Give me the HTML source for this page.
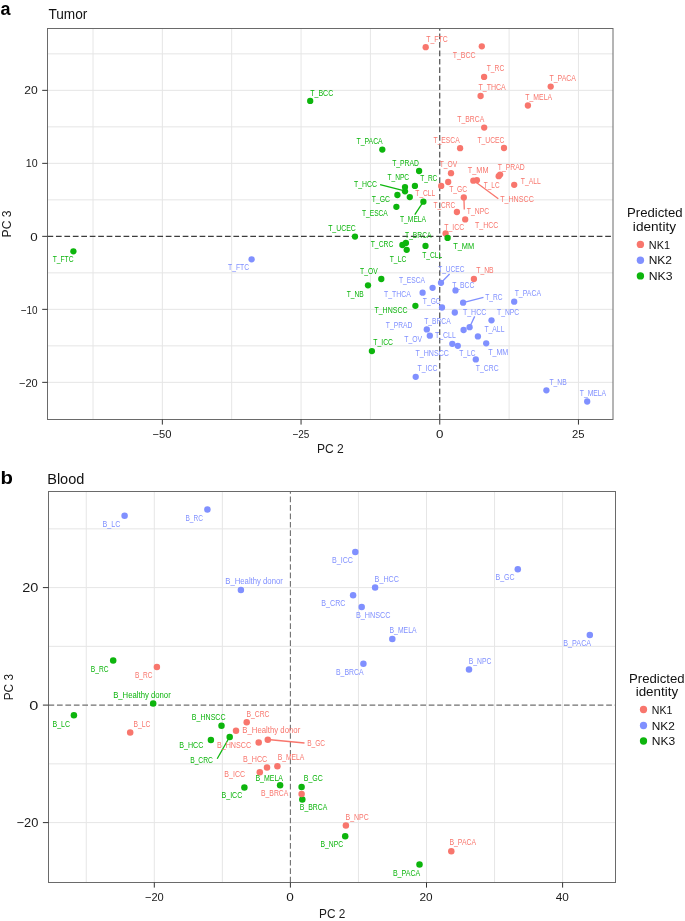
<!DOCTYPE html><html><head><meta charset="utf-8"><style>html,body{margin:0;padding:0;background:#fff;width:685px;height:921px;overflow:hidden;}svg{display:block;will-change:transform;}text{font-family:"Liberation Sans",sans-serif;}</style></head><body>
<svg width="685" height="921" viewBox="0 0 685 921">
<rect x="47.5" y="28.5" width="565.5" height="391" fill="#fff"/>
<line x1="93" y1="28.5" x2="93" y2="419.5" stroke="#E6E6E6" stroke-width="1"/>
<line x1="162.35" y1="28.5" x2="162.35" y2="419.5" stroke="#E6E6E6" stroke-width="1"/>
<line x1="231.7" y1="28.5" x2="231.7" y2="419.5" stroke="#E6E6E6" stroke-width="1"/>
<line x1="301.05" y1="28.5" x2="301.05" y2="419.5" stroke="#E6E6E6" stroke-width="1"/>
<line x1="370.4" y1="28.5" x2="370.4" y2="419.5" stroke="#E6E6E6" stroke-width="1"/>
<line x1="509.1" y1="28.5" x2="509.1" y2="419.5" stroke="#E6E6E6" stroke-width="1"/>
<line x1="578.45" y1="28.5" x2="578.45" y2="419.5" stroke="#E6E6E6" stroke-width="1"/>
<line x1="47.5" y1="53.85" x2="613" y2="53.85" stroke="#E6E6E6" stroke-width="1"/>
<line x1="47.5" y1="90.35" x2="613" y2="90.35" stroke="#E6E6E6" stroke-width="1"/>
<line x1="47.5" y1="126.85" x2="613" y2="126.85" stroke="#E6E6E6" stroke-width="1"/>
<line x1="47.5" y1="163.35" x2="613" y2="163.35" stroke="#E6E6E6" stroke-width="1"/>
<line x1="47.5" y1="199.85" x2="613" y2="199.85" stroke="#E6E6E6" stroke-width="1"/>
<line x1="47.5" y1="272.85" x2="613" y2="272.85" stroke="#E6E6E6" stroke-width="1"/>
<line x1="47.5" y1="309.35" x2="613" y2="309.35" stroke="#E6E6E6" stroke-width="1"/>
<line x1="47.5" y1="345.85" x2="613" y2="345.85" stroke="#E6E6E6" stroke-width="1"/>
<line x1="47.5" y1="382.35" x2="613" y2="382.35" stroke="#E6E6E6" stroke-width="1"/>
<line x1="47.5" y1="236.35" x2="613" y2="236.35" stroke="#3c3c3c" stroke-width="1.1" stroke-dasharray="5.7 2.75"/>
<line x1="439.75" y1="419.5" x2="439.75" y2="28.5" stroke="#3c3c3c" stroke-width="1.1" stroke-dasharray="5.7 2.75"/>
<line x1="476.3" y1="182.6" x2="498.3" y2="198.7" stroke="#F8766D" stroke-width="1.3"/>
<line x1="463.9" y1="197.4" x2="464.3" y2="209.6" stroke="#F8766D" stroke-width="1.3"/>
<line x1="380.1" y1="184.6" x2="402.6" y2="190.3" stroke="#0DB50D" stroke-width="1.3"/>
<line x1="414.8" y1="214.7" x2="423.4" y2="201.7" stroke="#0DB50D" stroke-width="1.3"/>
<line x1="449.6" y1="274" x2="441" y2="282.8" stroke="#8090FF" stroke-width="1.3"/>
<line x1="463.1" y1="302.7" x2="483.5" y2="297.4" stroke="#8090FF" stroke-width="1.3"/>
<line x1="469.6" y1="327.2" x2="474.7" y2="316.4" stroke="#8090FF" stroke-width="1.3"/>
<circle cx="425.7" cy="47.2" r="3.15" fill="#F8766D"/>
<circle cx="481.8" cy="46.3" r="3.15" fill="#F8766D"/>
<circle cx="484.1" cy="76.9" r="3.15" fill="#F8766D"/>
<circle cx="550.7" cy="86.6" r="3.15" fill="#F8766D"/>
<circle cx="480.6" cy="96" r="3.15" fill="#F8766D"/>
<circle cx="527.9" cy="105.5" r="3.15" fill="#F8766D"/>
<circle cx="484.2" cy="127.6" r="3.15" fill="#F8766D"/>
<circle cx="460.1" cy="148.2" r="3.15" fill="#F8766D"/>
<circle cx="504" cy="148" r="3.15" fill="#F8766D"/>
<circle cx="451" cy="173.2" r="3.15" fill="#F8766D"/>
<circle cx="448.2" cy="182" r="3.15" fill="#F8766D"/>
<circle cx="441.2" cy="185.9" r="3.15" fill="#F8766D"/>
<circle cx="473.3" cy="180.7" r="3.15" fill="#F8766D"/>
<circle cx="476.9" cy="180.2" r="3.15" fill="#F8766D"/>
<circle cx="498.7" cy="176.2" r="3.15" fill="#F8766D"/>
<circle cx="500.1" cy="174.6" r="3.15" fill="#F8766D"/>
<circle cx="514.2" cy="184.8" r="3.15" fill="#F8766D"/>
<circle cx="463.8" cy="197.4" r="3.15" fill="#F8766D"/>
<circle cx="456.9" cy="212" r="3.15" fill="#F8766D"/>
<circle cx="465.2" cy="219.4" r="3.15" fill="#F8766D"/>
<circle cx="445.6" cy="233.4" r="3.15" fill="#F8766D"/>
<circle cx="473.9" cy="279" r="3.15" fill="#F8766D"/>
<circle cx="73.4" cy="251.3" r="3.15" fill="#0DB50D"/>
<circle cx="310.2" cy="100.9" r="3.15" fill="#0DB50D"/>
<circle cx="382.3" cy="149.6" r="3.15" fill="#0DB50D"/>
<circle cx="419.1" cy="171" r="3.15" fill="#0DB50D"/>
<circle cx="414.9" cy="185.9" r="3.15" fill="#0DB50D"/>
<circle cx="405" cy="187.1" r="3.15" fill="#0DB50D"/>
<circle cx="405" cy="191.3" r="3.15" fill="#0DB50D"/>
<circle cx="409.8" cy="197.1" r="3.15" fill="#0DB50D"/>
<circle cx="397.4" cy="195" r="3.15" fill="#0DB50D"/>
<circle cx="423.4" cy="201.7" r="3.15" fill="#0DB50D"/>
<circle cx="396.4" cy="206.8" r="3.15" fill="#0DB50D"/>
<circle cx="355" cy="236.6" r="3.15" fill="#0DB50D"/>
<circle cx="402.4" cy="245" r="3.15" fill="#0DB50D"/>
<circle cx="405.9" cy="243" r="3.15" fill="#0DB50D"/>
<circle cx="406.7" cy="249.8" r="3.15" fill="#0DB50D"/>
<circle cx="425.5" cy="245.9" r="3.15" fill="#0DB50D"/>
<circle cx="447.6" cy="237.9" r="3.15" fill="#0DB50D"/>
<circle cx="381.3" cy="279" r="3.15" fill="#0DB50D"/>
<circle cx="368" cy="285.3" r="3.15" fill="#0DB50D"/>
<circle cx="415.4" cy="305.8" r="3.15" fill="#0DB50D"/>
<circle cx="371.9" cy="351.1" r="3.15" fill="#0DB50D"/>
<circle cx="251.6" cy="259.3" r="3.15" fill="#8090FF"/>
<circle cx="441" cy="282.8" r="3.15" fill="#8090FF"/>
<circle cx="432.6" cy="287.8" r="3.15" fill="#8090FF"/>
<circle cx="422.6" cy="292.7" r="3.15" fill="#8090FF"/>
<circle cx="455.5" cy="290.4" r="3.15" fill="#8090FF"/>
<circle cx="442" cy="307.5" r="3.15" fill="#8090FF"/>
<circle cx="454.8" cy="312.5" r="3.15" fill="#8090FF"/>
<circle cx="463.1" cy="302.7" r="3.15" fill="#8090FF"/>
<circle cx="514.2" cy="301.7" r="3.15" fill="#8090FF"/>
<circle cx="491.5" cy="320.3" r="3.15" fill="#8090FF"/>
<circle cx="469.6" cy="327.2" r="3.15" fill="#8090FF"/>
<circle cx="463.6" cy="330" r="3.15" fill="#8090FF"/>
<circle cx="426.8" cy="329.4" r="3.15" fill="#8090FF"/>
<circle cx="429.8" cy="335.7" r="3.15" fill="#8090FF"/>
<circle cx="452.3" cy="343.8" r="3.15" fill="#8090FF"/>
<circle cx="457.8" cy="345.8" r="3.15" fill="#8090FF"/>
<circle cx="477.9" cy="336.4" r="3.15" fill="#8090FF"/>
<circle cx="486.2" cy="343.3" r="3.15" fill="#8090FF"/>
<circle cx="475.8" cy="359.4" r="3.15" fill="#8090FF"/>
<circle cx="415.7" cy="376.8" r="3.15" fill="#8090FF"/>
<circle cx="546.4" cy="390.3" r="3.15" fill="#8090FF"/>
<circle cx="587.2" cy="401.5" r="3.15" fill="#8090FF"/>
<text x="426.25" y="41.51" font-size="8.15" fill="#F8766D" textLength="21.42" lengthAdjust="spacingAndGlyphs">T_FTC</text>
<text x="452.64" y="58.21" font-size="8.15" fill="#F8766D" textLength="23.03" lengthAdjust="spacingAndGlyphs">T_BCC</text>
<text x="486.75" y="71.01" font-size="8.15" fill="#F8766D" textLength="17.51" lengthAdjust="spacingAndGlyphs">T_RC</text>
<text x="549.45" y="81.21" font-size="8.15" fill="#F8766D" textLength="26.47" lengthAdjust="spacingAndGlyphs">T_PACA</text>
<text x="478.54" y="90.41" font-size="8.15" fill="#F8766D" textLength="27.27" lengthAdjust="spacingAndGlyphs">T_THCA</text>
<text x="525.35" y="100.21" font-size="8.15" fill="#F8766D" textLength="26.67" lengthAdjust="spacingAndGlyphs">T_MELA</text>
<text x="457.25" y="122.01" font-size="8.15" fill="#F8766D" textLength="26.97" lengthAdjust="spacingAndGlyphs">T_BRCA</text>
<text x="433.55" y="143.01" font-size="8.15" fill="#F8766D" textLength="26.06" lengthAdjust="spacingAndGlyphs">T_ESCA</text>
<text x="477.45" y="142.81" font-size="8.15" fill="#F8766D" textLength="27.01" lengthAdjust="spacingAndGlyphs">T_UCEC</text>
<text x="439.75" y="166.71" font-size="8.15" fill="#F8766D" textLength="17.48" lengthAdjust="spacingAndGlyphs">T_OV</text>
<text x="467.84" y="173.31" font-size="8.15" fill="#F8766D" textLength="20.66" lengthAdjust="spacingAndGlyphs">T_MM</text>
<text x="483.86" y="187.61" font-size="8.15" fill="#F8766D" textLength="15.69" lengthAdjust="spacingAndGlyphs">T_LC</text>
<text x="497.85" y="169.61" font-size="8.15" fill="#F8766D" textLength="26.88" lengthAdjust="spacingAndGlyphs">T_PRAD</text>
<text x="520.85" y="183.91" font-size="8.15" fill="#F8766D" textLength="19.98" lengthAdjust="spacingAndGlyphs">T_ALL</text>
<text x="500.14" y="201.81" font-size="8.15" fill="#F8766D" textLength="33.73" lengthAdjust="spacingAndGlyphs">T_HNSCC</text>
<text x="449.25" y="192.31" font-size="8.15" fill="#F8766D" textLength="17.91" lengthAdjust="spacingAndGlyphs">T_GC</text>
<text x="415.35" y="196.31" font-size="8.15" fill="#F8766D" textLength="19.87" lengthAdjust="spacingAndGlyphs">T_CLL</text>
<text x="466.85" y="213.91" font-size="8.15" fill="#F8766D" textLength="22.31" lengthAdjust="spacingAndGlyphs">T_NPC</text>
<text x="433.45" y="207.81" font-size="8.15" fill="#F8766D" textLength="21.69" lengthAdjust="spacingAndGlyphs">T_CRC</text>
<text x="475.04" y="228.21" font-size="8.15" fill="#F8766D" textLength="23.22" lengthAdjust="spacingAndGlyphs">T_HCC</text>
<text x="444.25" y="229.81" font-size="8.15" fill="#F8766D" textLength="19.92" lengthAdjust="spacingAndGlyphs">T_ICC</text>
<text x="476.25" y="273.01" font-size="8.15" fill="#F8766D" textLength="17.41" lengthAdjust="spacingAndGlyphs">T_NB</text>
<text x="52.65" y="262.41" font-size="8.15" fill="#0DB50D" textLength="20.91" lengthAdjust="spacingAndGlyphs">T_FTC</text>
<text x="310.24" y="95.51" font-size="8.15" fill="#0DB50D" textLength="23.03" lengthAdjust="spacingAndGlyphs">T_BCC</text>
<text x="356.45" y="144.01" font-size="8.15" fill="#0DB50D" textLength="26.26" lengthAdjust="spacingAndGlyphs">T_PACA</text>
<text x="392.15" y="165.71" font-size="8.15" fill="#0DB50D" textLength="26.68" lengthAdjust="spacingAndGlyphs">T_PRAD</text>
<text x="387.45" y="180.01" font-size="8.15" fill="#0DB50D" textLength="21.7" lengthAdjust="spacingAndGlyphs">T_NPC</text>
<text x="420.25" y="181.11" font-size="8.15" fill="#0DB50D" textLength="17.1" lengthAdjust="spacingAndGlyphs">T_RC</text>
<text x="353.95" y="187.41" font-size="8.15" fill="#0DB50D" textLength="22.92" lengthAdjust="spacingAndGlyphs">T_HCC</text>
<text x="371.75" y="201.51" font-size="8.15" fill="#0DB50D" textLength="18.21" lengthAdjust="spacingAndGlyphs">T_GC</text>
<text x="361.95" y="216.41" font-size="8.15" fill="#0DB50D" textLength="25.86" lengthAdjust="spacingAndGlyphs">T_ESCA</text>
<text x="399.95" y="222.21" font-size="8.15" fill="#0DB50D" textLength="26.16" lengthAdjust="spacingAndGlyphs">T_MELA</text>
<text x="328.14" y="231.21" font-size="8.15" fill="#0DB50D" textLength="27.62" lengthAdjust="spacingAndGlyphs">T_UCEC</text>
<text x="405.05" y="237.91" font-size="8.15" fill="#0DB50D" textLength="26.46" lengthAdjust="spacingAndGlyphs">T_BRCA</text>
<text x="370.75" y="246.91" font-size="8.15" fill="#0DB50D" textLength="22.51" lengthAdjust="spacingAndGlyphs">T_CRC</text>
<text x="389.75" y="261.71" font-size="8.15" fill="#0DB50D" textLength="16.51" lengthAdjust="spacingAndGlyphs">T_LC</text>
<text x="422.25" y="257.61" font-size="8.15" fill="#0DB50D" textLength="19.97" lengthAdjust="spacingAndGlyphs">T_CLL</text>
<text x="453.13" y="248.61" font-size="8.15" fill="#0DB50D" textLength="20.97" lengthAdjust="spacingAndGlyphs">T_MM</text>
<text x="360.05" y="273.51" font-size="8.15" fill="#0DB50D" textLength="17.58" lengthAdjust="spacingAndGlyphs">T_OV</text>
<text x="346.65" y="296.71" font-size="8.15" fill="#0DB50D" textLength="17" lengthAdjust="spacingAndGlyphs">T_NB</text>
<text x="374.44" y="312.71" font-size="8.15" fill="#0DB50D" textLength="33.12" lengthAdjust="spacingAndGlyphs">T_HNSCC</text>
<text x="373.35" y="345.41" font-size="8.15" fill="#0DB50D" textLength="19.61" lengthAdjust="spacingAndGlyphs">T_ICC</text>
<text x="228.05" y="270.41" font-size="8.15" fill="#8090FF" textLength="21.01" lengthAdjust="spacingAndGlyphs">T_FTC</text>
<text x="438.15" y="272.31" font-size="8.15" fill="#8090FF" textLength="26.4" lengthAdjust="spacingAndGlyphs">T_UCEC</text>
<text x="398.95" y="282.61" font-size="8.15" fill="#8090FF" textLength="26.06" lengthAdjust="spacingAndGlyphs">T_ESCA</text>
<text x="452.15" y="288.21" font-size="8.15" fill="#8090FF" textLength="22.21" lengthAdjust="spacingAndGlyphs">T_BCC</text>
<text x="384.05" y="296.91" font-size="8.15" fill="#8090FF" textLength="26.67" lengthAdjust="spacingAndGlyphs">T_THCA</text>
<text x="422.85" y="303.51" font-size="8.15" fill="#8090FF" textLength="17.8" lengthAdjust="spacingAndGlyphs">T_GC</text>
<text x="485.25" y="300.01" font-size="8.15" fill="#8090FF" textLength="17.3" lengthAdjust="spacingAndGlyphs">T_RC</text>
<text x="514.65" y="296.31" font-size="8.15" fill="#8090FF" textLength="26.37" lengthAdjust="spacingAndGlyphs">T_PACA</text>
<text x="462.94" y="314.51" font-size="8.15" fill="#8090FF" textLength="23.32" lengthAdjust="spacingAndGlyphs">T_HCC</text>
<text x="497.05" y="314.71" font-size="8.15" fill="#8090FF" textLength="22.11" lengthAdjust="spacingAndGlyphs">T_NPC</text>
<text x="385.85" y="327.61" font-size="8.15" fill="#8090FF" textLength="26.47" lengthAdjust="spacingAndGlyphs">T_PRAD</text>
<text x="424.25" y="323.91" font-size="8.15" fill="#8090FF" textLength="26.36" lengthAdjust="spacingAndGlyphs">T_BRCA</text>
<text x="484.45" y="331.81" font-size="8.15" fill="#8090FF" textLength="19.98" lengthAdjust="spacingAndGlyphs">T_ALL</text>
<text x="404.35" y="342.41" font-size="8.15" fill="#8090FF" textLength="17.78" lengthAdjust="spacingAndGlyphs">T_OV</text>
<text x="435.04" y="338.31" font-size="8.15" fill="#8090FF" textLength="20.79" lengthAdjust="spacingAndGlyphs">T_CLL</text>
<text x="415.54" y="356.41" font-size="8.15" fill="#8090FF" textLength="33.33" lengthAdjust="spacingAndGlyphs">T_HNSCC</text>
<text x="488.14" y="354.51" font-size="8.15" fill="#8090FF" textLength="20.14" lengthAdjust="spacingAndGlyphs">T_MM</text>
<text x="459.35" y="355.71" font-size="8.15" fill="#8090FF" textLength="16.1" lengthAdjust="spacingAndGlyphs">T_LC</text>
<text x="475.85" y="370.61" font-size="8.15" fill="#8090FF" textLength="22.71" lengthAdjust="spacingAndGlyphs">T_CRC</text>
<text x="417.44" y="371.41" font-size="8.15" fill="#8090FF" textLength="20.02" lengthAdjust="spacingAndGlyphs">T_ICC</text>
<text x="549.45" y="384.61" font-size="8.15" fill="#8090FF" textLength="17.21" lengthAdjust="spacingAndGlyphs">T_NB</text>
<text x="579.75" y="396.01" font-size="8.15" fill="#8090FF" textLength="26.37" lengthAdjust="spacingAndGlyphs">T_MELA</text>
<rect x="47.5" y="28.5" width="565.5" height="391" fill="none" stroke="#6a6a6a" stroke-width="1"/>
<rect x="48.5" y="491.5" width="567" height="391" fill="#fff"/>
<line x1="86.25" y1="491.5" x2="86.25" y2="882.5" stroke="#E6E6E6" stroke-width="1"/>
<line x1="154.3" y1="491.5" x2="154.3" y2="882.5" stroke="#E6E6E6" stroke-width="1"/>
<line x1="222.35" y1="491.5" x2="222.35" y2="882.5" stroke="#E6E6E6" stroke-width="1"/>
<line x1="358.45" y1="491.5" x2="358.45" y2="882.5" stroke="#E6E6E6" stroke-width="1"/>
<line x1="426.5" y1="491.5" x2="426.5" y2="882.5" stroke="#E6E6E6" stroke-width="1"/>
<line x1="494.55" y1="491.5" x2="494.55" y2="882.5" stroke="#E6E6E6" stroke-width="1"/>
<line x1="562.6" y1="491.5" x2="562.6" y2="882.5" stroke="#E6E6E6" stroke-width="1"/>
<line x1="48.5" y1="528.85" x2="615.5" y2="528.85" stroke="#E6E6E6" stroke-width="1"/>
<line x1="48.5" y1="587.6" x2="615.5" y2="587.6" stroke="#E6E6E6" stroke-width="1"/>
<line x1="48.5" y1="646.35" x2="615.5" y2="646.35" stroke="#E6E6E6" stroke-width="1"/>
<line x1="48.5" y1="763.85" x2="615.5" y2="763.85" stroke="#E6E6E6" stroke-width="1"/>
<line x1="48.5" y1="822.6" x2="615.5" y2="822.6" stroke="#E6E6E6" stroke-width="1"/>
<line x1="48.5" y1="705.1" x2="615.5" y2="705.1" stroke="#707070" stroke-width="1.1" stroke-dasharray="5.7 2.75"/>
<line x1="290.4" y1="882.5" x2="290.4" y2="491.5" stroke="#707070" stroke-width="1.1" stroke-dasharray="5.7 2.75"/>
<line x1="217.2" y1="758.8" x2="229.7" y2="736.8" stroke="#0DB50D" stroke-width="1.3"/>
<line x1="267.8" y1="739.5" x2="304.5" y2="743" stroke="#F8766D" stroke-width="1.3"/>
<circle cx="124.6" cy="515.8" r="3.25" fill="#8090FF"/>
<circle cx="207.4" cy="509.5" r="3.25" fill="#8090FF"/>
<circle cx="240.9" cy="589.9" r="3.25" fill="#8090FF"/>
<circle cx="355.3" cy="552.1" r="3.25" fill="#8090FF"/>
<circle cx="375.1" cy="587.5" r="3.25" fill="#8090FF"/>
<circle cx="353.1" cy="595.3" r="3.25" fill="#8090FF"/>
<circle cx="361.7" cy="607.1" r="3.25" fill="#8090FF"/>
<circle cx="392.3" cy="639.1" r="3.25" fill="#8090FF"/>
<circle cx="517.8" cy="569.2" r="3.25" fill="#8090FF"/>
<circle cx="589.8" cy="634.9" r="3.25" fill="#8090FF"/>
<circle cx="469" cy="669.6" r="3.25" fill="#8090FF"/>
<circle cx="363.4" cy="663.7" r="3.25" fill="#8090FF"/>
<circle cx="113.2" cy="660.6" r="3.25" fill="#0DB50D"/>
<circle cx="153.2" cy="703.4" r="3.25" fill="#0DB50D"/>
<circle cx="73.9" cy="715.3" r="3.25" fill="#0DB50D"/>
<circle cx="221.5" cy="725.7" r="3.25" fill="#0DB50D"/>
<circle cx="210.9" cy="740.1" r="3.25" fill="#0DB50D"/>
<circle cx="229.7" cy="737.1" r="3.25" fill="#0DB50D"/>
<circle cx="280.1" cy="785.3" r="3.25" fill="#0DB50D"/>
<circle cx="244.4" cy="787.4" r="3.25" fill="#0DB50D"/>
<circle cx="301.6" cy="787" r="3.25" fill="#0DB50D"/>
<circle cx="302.3" cy="799.4" r="3.25" fill="#0DB50D"/>
<circle cx="345.2" cy="836.3" r="3.25" fill="#0DB50D"/>
<circle cx="419.5" cy="864.5" r="3.25" fill="#0DB50D"/>
<circle cx="156.9" cy="666.9" r="3.25" fill="#F8766D"/>
<circle cx="130.2" cy="732.6" r="3.25" fill="#F8766D"/>
<circle cx="246.7" cy="722.3" r="3.25" fill="#F8766D"/>
<circle cx="236" cy="730.7" r="3.25" fill="#F8766D"/>
<circle cx="258.7" cy="742.6" r="3.25" fill="#F8766D"/>
<circle cx="267.8" cy="739.8" r="3.25" fill="#F8766D"/>
<circle cx="267" cy="767.4" r="3.25" fill="#F8766D"/>
<circle cx="277.4" cy="766.2" r="3.25" fill="#F8766D"/>
<circle cx="259.8" cy="772.3" r="3.25" fill="#F8766D"/>
<circle cx="301.6" cy="794" r="3.25" fill="#F8766D"/>
<circle cx="345.9" cy="825.5" r="3.25" fill="#F8766D"/>
<circle cx="451.3" cy="851.2" r="3.25" fill="#F8766D"/>
<text x="102.61" y="526.87" font-size="8.6" fill="#8090FF" textLength="17.86" lengthAdjust="spacingAndGlyphs">B_LC</text>
<text x="185.46" y="520.57" font-size="8.6" fill="#8090FF" textLength="17.49" lengthAdjust="spacingAndGlyphs">B_RC</text>
<text x="225.27" y="584.27" font-size="8.6" fill="#8090FF" textLength="57.56" lengthAdjust="spacingAndGlyphs">B_Healthy donor</text>
<text x="332.02" y="563.17" font-size="8.6" fill="#8090FF" textLength="20.95" lengthAdjust="spacingAndGlyphs">B_ICC</text>
<text x="374.61" y="581.77" font-size="8.6" fill="#8090FF" textLength="24.36" lengthAdjust="spacingAndGlyphs">B_HCC</text>
<text x="321.32" y="605.87" font-size="8.6" fill="#8090FF" textLength="24.16" lengthAdjust="spacingAndGlyphs">B_CRC</text>
<text x="355.91" y="618.37" font-size="8.6" fill="#8090FF" textLength="34.57" lengthAdjust="spacingAndGlyphs">B_HNSCC</text>
<text x="389.54" y="633.37" font-size="8.6" fill="#8090FF" textLength="26.97" lengthAdjust="spacingAndGlyphs">B_MELA</text>
<text x="495.52" y="580.27" font-size="8.6" fill="#8090FF" textLength="19.14" lengthAdjust="spacingAndGlyphs">B_GC</text>
<text x="563.32" y="645.97" font-size="8.6" fill="#8090FF" textLength="27.79" lengthAdjust="spacingAndGlyphs">B_PACA</text>
<text x="468.84" y="663.97" font-size="8.6" fill="#8090FF" textLength="22.61" lengthAdjust="spacingAndGlyphs">B_NPC</text>
<text x="336.03" y="675.07" font-size="8.6" fill="#8090FF" textLength="27.58" lengthAdjust="spacingAndGlyphs">B_BRCA</text>
<text x="90.86" y="671.97" font-size="8.6" fill="#0DB50D" textLength="17.7" lengthAdjust="spacingAndGlyphs">B_RC</text>
<text x="113.17" y="697.87" font-size="8.6" fill="#0DB50D" textLength="57.56" lengthAdjust="spacingAndGlyphs">B_Healthy donor</text>
<text x="52.53" y="726.57" font-size="8.6" fill="#0DB50D" textLength="17.44" lengthAdjust="spacingAndGlyphs">B_LC</text>
<text x="191.82" y="720.17" font-size="8.6" fill="#0DB50D" textLength="33.75" lengthAdjust="spacingAndGlyphs">B_HNSCC</text>
<text x="179.22" y="748.17" font-size="8.6" fill="#0DB50D" textLength="24.16" lengthAdjust="spacingAndGlyphs">B_HCC</text>
<text x="190.15" y="762.57" font-size="8.6" fill="#0DB50D" textLength="22.81" lengthAdjust="spacingAndGlyphs">B_CRC</text>
<text x="255.43" y="781.47" font-size="8.6" fill="#0DB50D" textLength="27.48" lengthAdjust="spacingAndGlyphs">B_MELA</text>
<text x="221.52" y="798.47" font-size="8.6" fill="#0DB50D" textLength="20.75" lengthAdjust="spacingAndGlyphs">B_ICC</text>
<text x="303.72" y="781.47" font-size="8.6" fill="#0DB50D" textLength="19.14" lengthAdjust="spacingAndGlyphs">B_GC</text>
<text x="299.84" y="810.17" font-size="8.6" fill="#0DB50D" textLength="27.48" lengthAdjust="spacingAndGlyphs">B_BRCA</text>
<text x="320.54" y="847.37" font-size="8.6" fill="#0DB50D" textLength="22.61" lengthAdjust="spacingAndGlyphs">B_NPC</text>
<text x="392.93" y="875.87" font-size="8.6" fill="#0DB50D" textLength="27.28" lengthAdjust="spacingAndGlyphs">B_PACA</text>
<text x="134.96" y="677.97" font-size="8.6" fill="#F8766D" textLength="17.49" lengthAdjust="spacingAndGlyphs">B_RC</text>
<text x="133.55" y="726.57" font-size="8.6" fill="#F8766D" textLength="16.81" lengthAdjust="spacingAndGlyphs">B_LC</text>
<text x="246.44" y="716.97" font-size="8.6" fill="#F8766D" textLength="23.02" lengthAdjust="spacingAndGlyphs">B_CRC</text>
<text x="242.36" y="733.37" font-size="8.6" fill="#F8766D" textLength="57.87" lengthAdjust="spacingAndGlyphs">B_Healthy donor</text>
<text x="216.91" y="748.17" font-size="8.6" fill="#F8766D" textLength="34.26" lengthAdjust="spacingAndGlyphs">B_HNSCC</text>
<text x="307.16" y="745.67" font-size="8.6" fill="#F8766D" textLength="17.89" lengthAdjust="spacingAndGlyphs">B_GC</text>
<text x="243.01" y="762.27" font-size="8.6" fill="#F8766D" textLength="24.26" lengthAdjust="spacingAndGlyphs">B_HCC</text>
<text x="277.64" y="760.47" font-size="8.6" fill="#F8766D" textLength="26.77" lengthAdjust="spacingAndGlyphs">B_MELA</text>
<text x="224.32" y="776.77" font-size="8.6" fill="#F8766D" textLength="20.75" lengthAdjust="spacingAndGlyphs">B_ICC</text>
<text x="261.04" y="796.17" font-size="8.6" fill="#F8766D" textLength="27.27" lengthAdjust="spacingAndGlyphs">B_BRCA</text>
<text x="345.53" y="819.97" font-size="8.6" fill="#F8766D" textLength="23.13" lengthAdjust="spacingAndGlyphs">B_NPC</text>
<text x="449.45" y="845.47" font-size="8.6" fill="#F8766D" textLength="26.57" lengthAdjust="spacingAndGlyphs">B_PACA</text>
<rect x="48.5" y="491.5" width="567" height="391" fill="none" stroke="#6a6a6a" stroke-width="1"/>
<line x1="42.2" y1="90.35" x2="47.5" y2="90.35" stroke="#333" stroke-width="1"/>
<text x="24.19" y="94.1" font-size="11.2" fill="#1a1a1a" textLength="13.48" lengthAdjust="spacingAndGlyphs">20</text>
<line x1="42.2" y1="163.35" x2="47.5" y2="163.35" stroke="#333" stroke-width="1"/>
<text x="25.79" y="167.2" font-size="11.2" fill="#1a1a1a" textLength="11.83" lengthAdjust="spacingAndGlyphs">10</text>
<line x1="42.2" y1="236.35" x2="47.5" y2="236.35" stroke="#333" stroke-width="1"/>
<text x="30.28" y="240.6" font-size="11.2" fill="#1a1a1a" textLength="7.45" lengthAdjust="spacingAndGlyphs">0</text>
<line x1="42.2" y1="309.35" x2="47.5" y2="309.35" stroke="#333" stroke-width="1"/>
<text x="20.71" y="313.5" font-size="11.2" fill="#1a1a1a" textLength="16.88" lengthAdjust="spacingAndGlyphs">−10</text>
<line x1="42.2" y1="382.35" x2="47.5" y2="382.35" stroke="#333" stroke-width="1"/>
<text x="18.96" y="386.7" font-size="11.2" fill="#1a1a1a" textLength="18.67" lengthAdjust="spacingAndGlyphs">−20</text>
<line x1="162.35" y1="419.5" x2="162.35" y2="424.6" stroke="#333" stroke-width="1"/>
<text x="152.55" y="437.8" font-size="11.2" fill="#1a1a1a" textLength="18.99" lengthAdjust="spacingAndGlyphs">−50</text>
<line x1="301.05" y1="419.5" x2="301.05" y2="424.6" stroke="#333" stroke-width="1"/>
<text x="292.41" y="437.8" font-size="11.2" fill="#1a1a1a" textLength="16.91" lengthAdjust="spacingAndGlyphs">−25</text>
<line x1="439.75" y1="419.5" x2="439.75" y2="424.6" stroke="#333" stroke-width="1"/>
<text x="435.98" y="437.8" font-size="11.2" fill="#1a1a1a" textLength="7.45" lengthAdjust="spacingAndGlyphs">0</text>
<line x1="578.45" y1="419.5" x2="578.45" y2="424.6" stroke="#333" stroke-width="1"/>
<text x="572.03" y="437.8" font-size="11.2" fill="#1a1a1a" textLength="12.54" lengthAdjust="spacingAndGlyphs">25</text>
<line x1="42.9" y1="587.6" x2="48.5" y2="587.6" stroke="#333" stroke-width="1"/>
<text x="22.27" y="592.1" font-size="12.6" fill="#1a1a1a" textLength="16.09" lengthAdjust="spacingAndGlyphs">20</text>
<line x1="42.9" y1="705.1" x2="48.5" y2="705.1" stroke="#333" stroke-width="1"/>
<text x="29.36" y="709.9" font-size="12.6" fill="#1a1a1a" textLength="9.07" lengthAdjust="spacingAndGlyphs">0</text>
<line x1="42.9" y1="822.6" x2="48.5" y2="822.6" stroke="#333" stroke-width="1"/>
<text x="16.47" y="826.7" font-size="12.6" fill="#1a1a1a" textLength="21.84" lengthAdjust="spacingAndGlyphs">−20</text>
<line x1="154.3" y1="882.5" x2="154.3" y2="887.6" stroke="#333" stroke-width="1"/>
<text x="144.95" y="900.5" font-size="11.2" fill="#1a1a1a" textLength="18.78" lengthAdjust="spacingAndGlyphs">−20</text>
<line x1="290.4" y1="882.5" x2="290.4" y2="887.6" stroke="#333" stroke-width="1"/>
<text x="286.37" y="900.5" font-size="11.2" fill="#1a1a1a" textLength="7.56" lengthAdjust="spacingAndGlyphs">0</text>
<line x1="426.5" y1="882.5" x2="426.5" y2="887.6" stroke="#333" stroke-width="1"/>
<text x="419.41" y="900.5" font-size="11.2" fill="#1a1a1a" textLength="13.16" lengthAdjust="spacingAndGlyphs">20</text>
<line x1="562.6" y1="882.5" x2="562.6" y2="887.6" stroke="#333" stroke-width="1"/>
<text x="555.73" y="900.5" font-size="11.2" fill="#1a1a1a" textLength="13.13" lengthAdjust="spacingAndGlyphs">40</text>
<text x="317.01" y="452.9" font-size="12.6" fill="#1a1a1a" textLength="26.79" lengthAdjust="spacingAndGlyphs">PC 2</text>
<text x="319.03" y="917.9" font-size="12" fill="#1a1a1a" textLength="26.26" lengthAdjust="spacingAndGlyphs">PC 2</text>
<text transform="rotate(-90)" x="-237.39" y="10.9" font-size="12.8" fill="#1a1a1a" textLength="26.93" lengthAdjust="spacingAndGlyphs">PC 3</text>
<text transform="rotate(-90)" x="-700.37" y="13.1" font-size="12.8" fill="#1a1a1a" textLength="26.4" lengthAdjust="spacingAndGlyphs">PC 3</text>
<text x="48.4" y="18.9" font-size="13.8" fill="#111" textLength="38.93" lengthAdjust="spacingAndGlyphs">Tumor</text>
<text x="47.21" y="484.2" font-size="14.1" fill="#111" textLength="37.13" lengthAdjust="spacingAndGlyphs">Blood</text>
<text x="0.57" y="14.9" font-size="18" fill="#000" textLength="10.01" lengthAdjust="spacingAndGlyphs" font-weight="bold">a</text>
<text x="0.41" y="483.8" font-size="18" fill="#000" textLength="12.43" lengthAdjust="spacingAndGlyphs" font-weight="bold">b</text>
<text x="627.02" y="217.1" font-size="12.4" fill="#111" textLength="55.53" lengthAdjust="spacingAndGlyphs">Predicted</text>
<text x="632.89" y="231.3" font-size="12.4" fill="#111" textLength="43.14" lengthAdjust="spacingAndGlyphs">identity</text>
<circle cx="640.4" cy="244.4" r="3.7" fill="#F8766D"/>
<circle cx="640.4" cy="260.3" r="3.7" fill="#8090FF"/>
<circle cx="640.4" cy="275.9" r="3.7" fill="#0DB50D"/>
<text x="648.81" y="248.7" font-size="11.8" fill="#111" textLength="21.12" lengthAdjust="spacingAndGlyphs">NK1</text>
<text x="648.72" y="264.4" font-size="11.8" fill="#111" textLength="23.28" lengthAdjust="spacingAndGlyphs">NK2</text>
<text x="648.7" y="279.8" font-size="11.8" fill="#111" textLength="23.74" lengthAdjust="spacingAndGlyphs">NK3</text>
<text x="629.12" y="682.9" font-size="12.4" fill="#111" textLength="55.53" lengthAdjust="spacingAndGlyphs">Predicted</text>
<text x="635.7" y="696.3" font-size="12.4" fill="#111" textLength="42.42" lengthAdjust="spacingAndGlyphs">identity</text>
<circle cx="643.5" cy="709.5" r="3.65" fill="#F8766D"/>
<circle cx="643.5" cy="725.5" r="3.65" fill="#8090FF"/>
<circle cx="643.5" cy="741" r="3.65" fill="#0DB50D"/>
<text x="651.83" y="713.8" font-size="11.8" fill="#111" textLength="20.58" lengthAdjust="spacingAndGlyphs">NK1</text>
<text x="651.73" y="729.7" font-size="11.8" fill="#111" textLength="23.07" lengthAdjust="spacingAndGlyphs">NK2</text>
<text x="651.71" y="745.4" font-size="11.8" fill="#111" textLength="23.42" lengthAdjust="spacingAndGlyphs">NK3</text>
</svg></body></html>
